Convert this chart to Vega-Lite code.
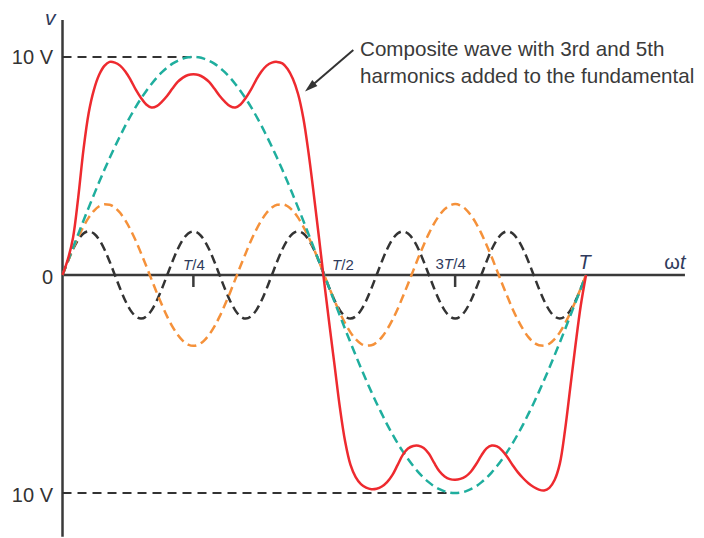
{
  "$schema": "https://vega.github.io/schema/vega-lite/v6.json",
  "width": 704,
  "height": 538,
  "autosize": {"type": "fit", "contains": "padding"},
  "padding": 0,
  "background": "white",
  "config": {"view": {"stroke": null}},
  "datasets": {
    "waves": [
      {"t":0,"f":0,"h3":0,"h5":0,"c":0},
      {"t":0.01,"f":0.63,"h3":0.61,"h5":0.62,"c":0.7},
      {"t":0.02,"f":1.25,"h3":1.2,"h5":1.18,"c":1.7},
      {"t":0.03,"f":1.87,"h3":1.74,"h5":1.62,"c":3.55},
      {"t":0.04,"f":2.49,"h3":2.22,"h5":1.9,"c":5.74},
      {"t":0.05,"f":3.09,"h3":2.63,"h5":2,"c":7.43},
      {"t":0.06,"f":3.68,"h3":2.94,"h5":1.9,"c":8.49},
      {"t":0.07,"f":4.26,"h3":3.15,"h5":1.62,"c":9.18},
      {"t":0.08,"f":4.82,"h3":3.24,"h5":1.18,"c":9.59},
      {"t":0.09,"f":5.36,"h3":3.22,"h5":0.62,"c":9.77},
      {"t":0.1,"f":5.88,"h3":3.09,"h5":0,"c":9.74},
      {"t":0.11,"f":6.37,"h3":2.85,"h5":-0.62,"c":9.6},
      {"t":0.12,"f":6.85,"h3":2.5,"h5":-1.18,"c":9.33},
      {"t":0.13,"f":7.29,"h3":2.07,"h5":-1.62,"c":8.95},
      {"t":0.14,"f":7.71,"h3":1.57,"h5":-1.9,"c":8.5},
      {"t":0.15,"f":8.09,"h3":1,"h5":-2,"c":8.12},
      {"t":0.16,"f":8.44,"h3":0.41,"h5":-1.9,"c":7.82},
      {"t":0.17,"f":8.76,"h3":-0.2,"h5":-1.62,"c":7.68},
      {"t":0.18,"f":9.05,"h3":-0.81,"h5":-1.18,"c":7.74},
      {"t":0.19,"f":9.3,"h3":-1.38,"h5":-0.62,"c":7.95},
      {"t":0.2,"f":9.51,"h3":-1.91,"h5":0,"c":8.22},
      {"t":0.21,"f":9.69,"h3":-2.37,"h5":0.62,"c":8.55},
      {"t":0.22,"f":9.82,"h3":-2.74,"h5":1.18,"c":8.85},
      {"t":0.23,"f":9.92,"h3":-3.02,"h5":1.62,"c":9.05},
      {"t":0.24,"f":9.98,"h3":-3.19,"h5":1.9,"c":9.17},
      {"t":0.25,"f":10,"h3":-3.25,"h5":2,"c":9.2},
      {"t":0.26,"f":9.98,"h3":-3.19,"h5":1.9,"c":9.17},
      {"t":0.27,"f":9.92,"h3":-3.02,"h5":1.62,"c":9.05},
      {"t":0.28,"f":9.82,"h3":-2.74,"h5":1.18,"c":8.85},
      {"t":0.29,"f":9.69,"h3":-2.37,"h5":0.62,"c":8.55},
      {"t":0.3,"f":9.51,"h3":-1.91,"h5":0,"c":8.22},
      {"t":0.31,"f":9.3,"h3":-1.38,"h5":-0.62,"c":7.95},
      {"t":0.32,"f":9.05,"h3":-0.81,"h5":-1.18,"c":7.74},
      {"t":0.33,"f":8.76,"h3":-0.2,"h5":-1.62,"c":7.68},
      {"t":0.34,"f":8.44,"h3":0.41,"h5":-1.9,"c":7.82},
      {"t":0.35,"f":8.09,"h3":1,"h5":-2,"c":8.12},
      {"t":0.36,"f":7.71,"h3":1.57,"h5":-1.9,"c":8.5},
      {"t":0.37,"f":7.29,"h3":2.07,"h5":-1.62,"c":8.95},
      {"t":0.38,"f":6.85,"h3":2.5,"h5":-1.18,"c":9.33},
      {"t":0.39,"f":6.37,"h3":2.85,"h5":-0.62,"c":9.6},
      {"t":0.4,"f":5.88,"h3":3.09,"h5":0,"c":9.74},
      {"t":0.41,"f":5.36,"h3":3.22,"h5":0.62,"c":9.77},
      {"t":0.42,"f":4.82,"h3":3.24,"h5":1.18,"c":9.7},
      {"t":0.43,"f":4.26,"h3":3.15,"h5":1.62,"c":9.45},
      {"t":0.44,"f":3.68,"h3":2.94,"h5":1.9,"c":9},
      {"t":0.45,"f":3.09,"h3":2.63,"h5":2,"c":8.3},
      {"t":0.46,"f":2.49,"h3":2.22,"h5":1.9,"c":7.2},
      {"t":0.47,"f":1.87,"h3":1.74,"h5":1.62,"c":5.6},
      {"t":0.48,"f":1.25,"h3":1.2,"h5":1.18,"c":3.7},
      {"t":0.49,"f":0.63,"h3":0.61,"h5":0.62,"c":1.7},
      {"t":0.5,"f":0,"h3":0,"h5":0,"c":-0.35},
      {"t":0.51,"f":-0.63,"h3":-0.61,"h5":-0.62,"c":-2.3},
      {"t":0.52,"f":-1.25,"h3":-1.2,"h5":-1.18,"c":-4.2},
      {"t":0.53,"f":-1.87,"h3":-1.74,"h5":-1.62,"c":-6.1},
      {"t":0.54,"f":-2.49,"h3":-2.22,"h5":-1.9,"c":-7.65},
      {"t":0.55,"f":-3.09,"h3":-2.63,"h5":-2,"c":-8.7},
      {"t":0.56,"f":-3.68,"h3":-2.94,"h5":-1.9,"c":-9.27},
      {"t":0.57,"f":-4.26,"h3":-3.15,"h5":-1.62,"c":-9.59},
      {"t":0.58,"f":-4.82,"h3":-3.24,"h5":-1.18,"c":-9.75},
      {"t":0.59,"f":-5.36,"h3":-3.22,"h5":-0.62,"c":-9.82},
      {"t":0.6,"f":-5.88,"h3":-3.09,"h5":0,"c":-9.8},
      {"t":0.61,"f":-6.37,"h3":-2.85,"h5":0.62,"c":-9.7},
      {"t":0.62,"f":-6.85,"h3":-2.5,"h5":1.18,"c":-9.5},
      {"t":0.63,"f":-7.29,"h3":-2.07,"h5":1.62,"c":-9.18},
      {"t":0.64,"f":-7.71,"h3":-1.57,"h5":1.9,"c":-8.72},
      {"t":0.65,"f":-8.09,"h3":-1,"h5":2,"c":-8.25},
      {"t":0.66,"f":-8.44,"h3":-0.41,"h5":1.9,"c":-7.96},
      {"t":0.67,"f":-8.76,"h3":0.2,"h5":1.62,"c":-7.84},
      {"t":0.68,"f":-9.05,"h3":0.81,"h5":1.18,"c":-7.83},
      {"t":0.69,"f":-9.3,"h3":1.38,"h5":0.62,"c":-7.93},
      {"t":0.7,"f":-9.51,"h3":1.91,"h5":0,"c":-8.2},
      {"t":0.71,"f":-9.69,"h3":2.37,"h5":-0.62,"c":-8.62},
      {"t":0.72,"f":-9.82,"h3":2.74,"h5":-1.18,"c":-9},
      {"t":0.73,"f":-9.92,"h3":3.02,"h5":-1.62,"c":-9.24},
      {"t":0.74,"f":-9.98,"h3":3.19,"h5":-1.9,"c":-9.36},
      {"t":0.75,"f":-10,"h3":3.25,"h5":-2,"c":-9.39},
      {"t":0.76,"f":-9.98,"h3":3.19,"h5":-1.9,"c":-9.35},
      {"t":0.77,"f":-9.92,"h3":3.02,"h5":-1.62,"c":-9.24},
      {"t":0.78,"f":-9.82,"h3":2.74,"h5":-1.18,"c":-9.02},
      {"t":0.79,"f":-9.69,"h3":2.37,"h5":-0.62,"c":-8.68},
      {"t":0.8,"f":-9.51,"h3":1.91,"h5":0,"c":-8.28},
      {"t":0.81,"f":-9.3,"h3":1.38,"h5":0.62,"c":-7.95},
      {"t":0.82,"f":-9.05,"h3":0.81,"h5":1.18,"c":-7.82},
      {"t":0.83,"f":-8.76,"h3":0.2,"h5":1.62,"c":-7.86},
      {"t":0.84,"f":-8.44,"h3":-0.41,"h5":1.9,"c":-8.05},
      {"t":0.85,"f":-8.09,"h3":-1,"h5":2,"c":-8.36},
      {"t":0.86,"f":-7.71,"h3":-1.57,"h5":1.9,"c":-8.72},
      {"t":0.87,"f":-7.29,"h3":-2.07,"h5":1.62,"c":-9.05},
      {"t":0.88,"f":-6.85,"h3":-2.5,"h5":1.18,"c":-9.32},
      {"t":0.89,"f":-6.37,"h3":-2.85,"h5":0.62,"c":-9.55},
      {"t":0.9,"f":-5.88,"h3":-3.09,"h5":0,"c":-9.72},
      {"t":0.91,"f":-5.36,"h3":-3.22,"h5":-0.62,"c":-9.84},
      {"t":0.92,"f":-4.82,"h3":-3.24,"h5":-1.18,"c":-9.88},
      {"t":0.93,"f":-4.26,"h3":-3.15,"h5":-1.62,"c":-9.76},
      {"t":0.94,"f":-3.68,"h3":-2.94,"h5":-1.9,"c":-9.4},
      {"t":0.95,"f":-3.09,"h3":-2.63,"h5":-2,"c":-8.65},
      {"t":0.96,"f":-2.49,"h3":-2.22,"h5":-1.9,"c":-7.1},
      {"t":0.97,"f":-1.87,"h3":-1.74,"h5":-1.62,"c":-5.15},
      {"t":0.98,"f":-1.25,"h3":-1.2,"h5":-1.18,"c":-3.2},
      {"t":0.99,"f":-0.63,"h3":-0.61,"h5":-0.62,"c":-1.4},
      {"t":1,"f":0,"h3":0,"h5":0,"c":0}
    ]
  },
  "layer": [
    {
      "data": {"values": [
        {"x":0,"x2":1.189,"y":0,"y2":0},
        {"x":0,"x2":0,"y":11.69,"y2":-12},
        {"x":0.25,"x2":0.25,"y":0,"y2":-0.55},
        {"x":0.75,"x2":0.75,"y":0,"y2":-0.55}
      ]},
      "mark": {"type": "rule", "color": "#3a3a3a", "strokeWidth": 2.5},
      "encoding": {
        "x": {"field": "x", "type": "quantitative", "scale": {"domain": [-0.1194, 1.2254], "nice": false, "zero": false}, "axis": null},
        "x2": {"field": "x2"},
        "y": {"field": "y", "type": "quantitative", "scale": {"domain": [-12.014, 12.609], "nice": false, "zero": false}, "axis": null},
        "y2": {"field": "y2"}
      }
    },
    {
      "data": {"values": [
        {"x":0,"x2":0.25,"y":10,"y2":10},
        {"x":0,"x2":0.75,"y":-10,"y2":-10}
      ]},
      "mark": {"type": "rule", "color": "#333333", "strokeWidth": 2, "strokeDash": [9, 6]},
      "encoding": {
        "x": {"field": "x", "type": "quantitative", "scale": {"domain": [-0.1194, 1.2254], "nice": false, "zero": false}, "axis": null},
        "x2": {"field": "x2"},
        "y": {"field": "y", "type": "quantitative", "scale": {"domain": [-12.014, 12.609], "nice": false, "zero": false}, "axis": null},
        "y2": {"field": "y2"}
      }
    },
    {
      "data": {"name": "waves"},
      "mark": {"type": "line", "color": "#333333", "strokeWidth": 2.5, "strokeDash": [9, 5], "interpolate": "monotone"},
      "encoding": {
        "x": {"field": "t", "type": "quantitative", "scale": {"domain": [-0.1194, 1.2254], "nice": false, "zero": false}, "axis": null},
        "y": {"field": "h5", "type": "quantitative", "scale": {"domain": [-12.014, 12.609], "nice": false, "zero": false}, "axis": null}
      }
    },
    {
      "data": {"name": "waves"},
      "mark": {"type": "line", "color": "#f5913a", "strokeWidth": 2.5, "strokeDash": [9, 5], "interpolate": "monotone"},
      "encoding": {
        "x": {"field": "t", "type": "quantitative", "scale": {"domain": [-0.1194, 1.2254], "nice": false, "zero": false}, "axis": null},
        "y": {"field": "h3", "type": "quantitative", "scale": {"domain": [-12.014, 12.609], "nice": false, "zero": false}, "axis": null}
      }
    },
    {
      "data": {"name": "waves"},
      "mark": {"type": "line", "color": "#1fae9e", "strokeWidth": 2.5, "strokeDash": [9, 5], "interpolate": "monotone"},
      "encoding": {
        "x": {"field": "t", "type": "quantitative", "scale": {"domain": [-0.1194, 1.2254], "nice": false, "zero": false}, "axis": null},
        "y": {"field": "f", "type": "quantitative", "scale": {"domain": [-12.014, 12.609], "nice": false, "zero": false}, "axis": null}
      }
    },
    {
      "data": {"name": "waves"},
      "mark": {"type": "line", "color": "#ee2a2f", "strokeWidth": 2.5, "interpolate": "catmull-rom"},
      "encoding": {
        "x": {"field": "t", "type": "quantitative", "scale": {"domain": [-0.1194, 1.2254], "nice": false, "zero": false}, "axis": null},
        "y": {"field": "c", "type": "quantitative", "scale": {"domain": [-12.014, 12.609], "nice": false, "zero": false}, "axis": null}
      }
    },
    {
      "data": {"values": [{"x":0.5555,"x2":0.4726,"y":10.32,"y2":8.607}]},
      "mark": {"type": "rule", "color": "#333333", "strokeWidth": 2},
      "encoding": {
        "x": {"field": "x", "type": "quantitative", "scale": {"domain": [-0.1194, 1.2254], "nice": false, "zero": false}, "axis": null},
        "x2": {"field": "x2"},
        "y": {"field": "y", "type": "quantitative", "scale": {"domain": [-12.014, 12.609], "nice": false, "zero": false}, "axis": null},
        "y2": {"field": "y2"}
      }
    },
    {
      "data": {"values": [{"x":0.4726,"y":8.607}]},
      "mark": {"type": "point", "shape": "M0,-1L0.6,1L-0.6,1Z", "size": 169, "angle": 229.2, "filled": true, "color": "#333333", "opacity": 1},
      "encoding": {
        "x": {"field": "x", "type": "quantitative", "scale": {"domain": [-0.1194, 1.2254], "nice": false, "zero": false}, "axis": null},
        "y": {"field": "y", "type": "quantitative", "scale": {"domain": [-12.014, 12.609], "nice": false, "zero": false}, "axis": null}
      }
    },
    {
      "data": {"values": [
        {"x":-0.0181,"y":9.68,"label":"10 V"},
        {"x":-0.0181,"y":-0.435,"label":"0"},
        {"x":-0.0181,"y":-10.41,"label":"10 V"}
      ]},
      "mark": {"type": "text", "align": "right", "baseline": "alphabetic", "font": "Liberation Sans", "fontSize": 20, "color": "#333333"},
      "encoding": {
        "x": {"field": "x", "type": "quantitative", "scale": {"domain": [-0.1194, 1.2254], "nice": false, "zero": false}, "axis": null},
        "y": {"field": "y", "type": "quantitative", "scale": {"domain": [-12.014, 12.609], "nice": false, "zero": false}, "axis": null},
        "text": {"field": "label"}
      }
    },
    {
      "data": {"values": [
        {"x":0.5683,"y":10.05,"label":"Composite wave with 3rd and 5th"},
        {"x":0.5683,"y":8.81,"label":"harmonics added to the fundamental"}
      ]},
      "mark": {"type": "text", "align": "left", "baseline": "alphabetic", "font": "Liberation Sans", "fontSize": 20.6, "color": "#3a3a3a"},
      "encoding": {
        "x": {"field": "x", "type": "quantitative", "scale": {"domain": [-0.1194, 1.2254], "nice": false, "zero": false}, "axis": null},
        "y": {"field": "y", "type": "quantitative", "scale": {"domain": [-12.014, 12.609], "nice": false, "zero": false}, "axis": null},
        "text": {"field": "label"}
      }
    },
    {
      "data": {"values": [
        {"x":0.2302,"y":0.206,"label":"T"},
        {"x":0.5148,"y":0.206,"label":"T"},
        {"x":0.7285,"y":0.252,"label":"T"}
      ]},
      "mark": {"type": "text", "align": "left", "baseline": "alphabetic", "font": "Liberation Sans", "fontSize": 15, "fontStyle": "italic", "color": "#2f3b5c"},
      "encoding": {
        "x": {"field": "x", "type": "quantitative", "scale": {"domain": [-0.1194, 1.2254], "nice": false, "zero": false}, "axis": null},
        "y": {"field": "y", "type": "quantitative", "scale": {"domain": [-12.014, 12.609], "nice": false, "zero": false}, "axis": null},
        "text": {"field": "label"}
      }
    },
    {
      "data": {"values": [
        {"x":0.2478,"y":0.206,"label":"/4"},
        {"x":0.5324,"y":0.206,"label":"/2"},
        {"x":0.7125,"y":0.252,"label":"3"},
        {"x":0.7465,"y":0.252,"label":"/4"}
      ]},
      "mark": {"type": "text", "align": "left", "baseline": "alphabetic", "font": "Liberation Sans", "fontSize": 15, "color": "#2f3b5c"},
      "encoding": {
        "x": {"field": "x", "type": "quantitative", "scale": {"domain": [-0.1194, 1.2254], "nice": false, "zero": false}, "axis": null},
        "y": {"field": "y", "type": "quantitative", "scale": {"domain": [-12.014, 12.609], "nice": false, "zero": false}, "axis": null},
        "text": {"field": "label"}
      }
    },
    {
      "data": {"values": [
        {"x":0.9857,"y":0.252,"label":"T"},
        {"x":1.1795,"y":0.252,"label":"t"}
      ]},
      "mark": {"type": "text", "align": "left", "baseline": "alphabetic", "font": "Liberation Sans", "fontSize": 20, "fontStyle": "italic", "color": "#2f3b5c"},
      "encoding": {
        "x": {"field": "x", "type": "quantitative", "scale": {"domain": [-0.1194, 1.2254], "nice": false, "zero": false}, "axis": null},
        "y": {"field": "y", "type": "quantitative", "scale": {"domain": [-12.014, 12.609], "nice": false, "zero": false}, "axis": null},
        "text": {"field": "label"}
      }
    },
    {
      "data": {"values": [
        {"x":1.1495,"y":0.252,"label":"ω"}
      ]},
      "mark": {"type": "text", "align": "left", "baseline": "alphabetic", "font": "Liberation Sans", "fontSize": 20, "color": "#2f3b5c"},
      "encoding": {
        "x": {"field": "x", "type": "quantitative", "scale": {"domain": [-0.1194, 1.2254], "nice": false, "zero": false}, "axis": null},
        "y": {"field": "y", "type": "quantitative", "scale": {"domain": [-12.014, 12.609], "nice": false, "zero": false}, "axis": null},
        "text": {"field": "label"}
      }
    },
    {
      "data": {"values": [
        {"x":-0.0334,"y":11.46,"label":"v"}
      ]},
      "mark": {"type": "text", "align": "left", "baseline": "alphabetic", "font": "Liberation Sans", "fontSize": 21, "fontStyle": "italic", "color": "#2f3b5c"},
      "encoding": {
        "x": {"field": "x", "type": "quantitative", "scale": {"domain": [-0.1194, 1.2254], "nice": false, "zero": false}, "axis": null},
        "y": {"field": "y", "type": "quantitative", "scale": {"domain": [-12.014, 12.609], "nice": false, "zero": false}, "axis": null},
        "text": {"field": "label"}
      }
    }
  ]
}
